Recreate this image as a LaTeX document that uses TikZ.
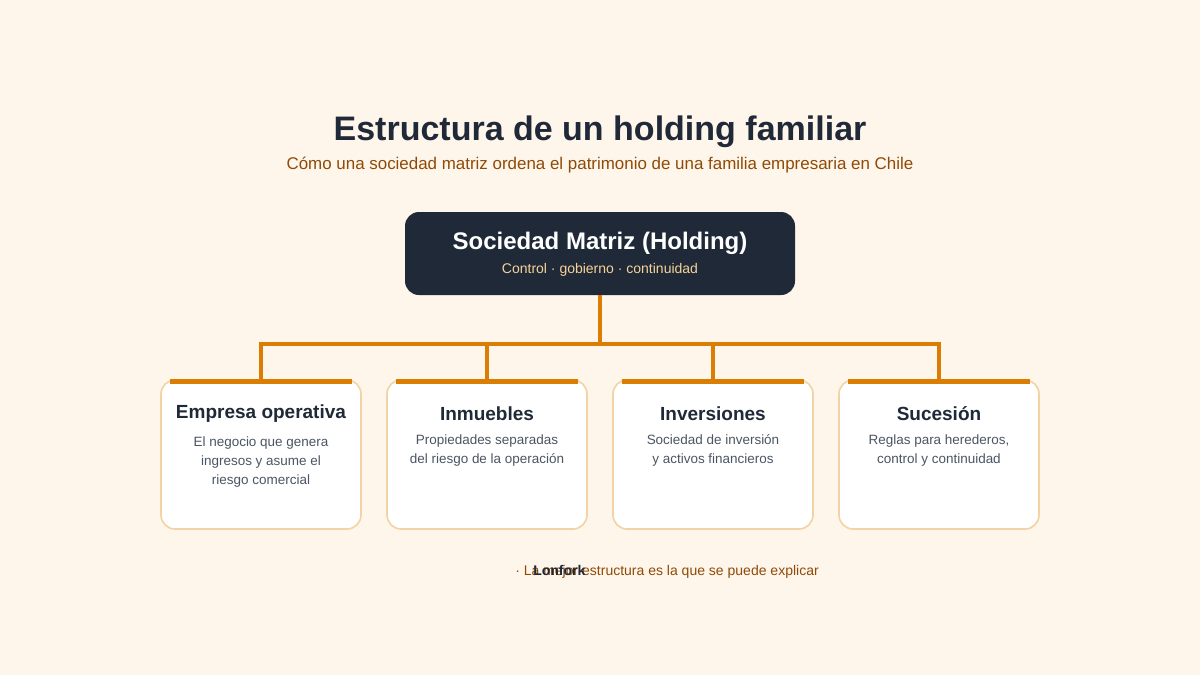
\documentclass[tikz,border=0pt]{standalone}
\usepackage{fontspec}
\setmainfont{Liberation Sans}
\usetikzlibrary{positioning}

\definecolor{bgcream}{HTML}{FEF5EB}
\definecolor{navy}{HTML}{1F2937}
\definecolor{brownish}{HTML}{8F4A06}
\definecolor{accent}{HTML}{DB7C03}
\definecolor{cardedge}{HTML}{F2D3A4}
\definecolor{softgold}{HTML}{F7D39A}
\definecolor{bodygray}{HTML}{4B5563}

\tikzset{
  hub/.style={draw=none, fill=navy, rounded corners=10.5pt,
    minimum width=292.5pt, minimum height=62.25pt, inner sep=0pt},
  card/.style={draw=cardedge, line width=1.2pt, fill=white, rounded corners=10.5pt,
    minimum width=150pt, minimum height=111.75pt, inner sep=0pt},
  topbar/.style={accent, line width=3.75pt},
  link/.style={accent, line width=2.3pt},
  cardtitle/.style={text=navy, font=\fontsize{14.25}{17}\selectfont\bfseries},
  cardbody/.style={text=bodygray, align=center,
    font=\fontsize{10.1}{14.25}\selectfont}
}

\begin{document}
\begin{tikzpicture}[x=0.75pt, y=-0.75pt]
  % Page and background
  \useasboundingbox (0,0) rectangle (1200,675);
  \fill[bgcream] (0,0) rectangle (1200,675);

  % Heading
  \node[text=navy, font=\fontsize{25.5}{30}\selectfont\bfseries] (title) at (600,132)
    {Estructura de un holding familiar};
  \node[text=brownish, font=\fontsize{12.7}{15}\selectfont] (subtitle) at (600,165)
    {Cómo una sociedad matriz ordena el patrimonio de una familia empresaria en Chile};

  % Parent company
  \node[hub] (matriz) at (600,253.5) {};
  \node[text=white, font=\fontsize{18}{21}\selectfont\bfseries] (matrizname) at (600,243)
    {Sociedad Matriz (Holding)};
  \node[text=softgold, font=\fontsize{10.5}{12}\selectfont] (matriztag) at (600,270)
    {Control · gobierno · continuidad};

  % Cards
  \node[card] (c1) at (261,454.5) {};
  \node[card] (c2) at (487,454.5) {};
  \node[card] (c3) at (713,454.5) {};
  \node[card] (c4) at (939,454.5) {};

  % Connectors
  \coordinate (bus) at (600,344);
  \draw[link] (matriz.south) -- (bus);
  \foreach \c in {c1,c2,c3,c4}
    \draw[link] (bus) -| (\c.north);

  % Orange bars on top of the cards
  \foreach \c in {c1,c2,c3,c4}
    \draw[topbar] ([xshift=7.5pt,yshift=-1.6pt]\c.north west) -- ([xshift=-7.5pt,yshift=-1.6pt]\c.north east);

  % Card texts
  \node[cardtitle] (t1) at (261,414) {Empresa operativa};
  \node[cardbody, below=3pt of t1] (b1) {El negocio que genera\\ingresos y asume el\\riesgo comercial};
  \node[cardtitle] (t2) at (487,414) {Inmuebles};
  \node[cardbody, below=3pt of t2] (b2) {Propiedades separadas\\del riesgo de la operación};
  \node[cardtitle] (t3) at (713,414) {Inversiones};
  \node[cardbody, below=3pt of t3] (b3) {Sociedad de inversión\\y activos financieros};
  \node[cardtitle] (t4) at (939,414) {Sucesión};
  \node[cardbody, below=3pt of t4] (b4) {Reglas para herederos,\\control y continuidad};

  % Footer
  \node[anchor=base west, inner sep=0pt, text=brownish, font=\fontsize{10.5}{12}\selectfont] (note) at (515,575)
    {· La mejor estructura es la que se puede explicar};
  \node[anchor=base west, inner sep=0pt, text=navy, font=\fontsize{10.5}{12}\selectfont\bfseries] (brand) at (533,575)
    {Lonfork};
\end{tikzpicture}
\end{document}
